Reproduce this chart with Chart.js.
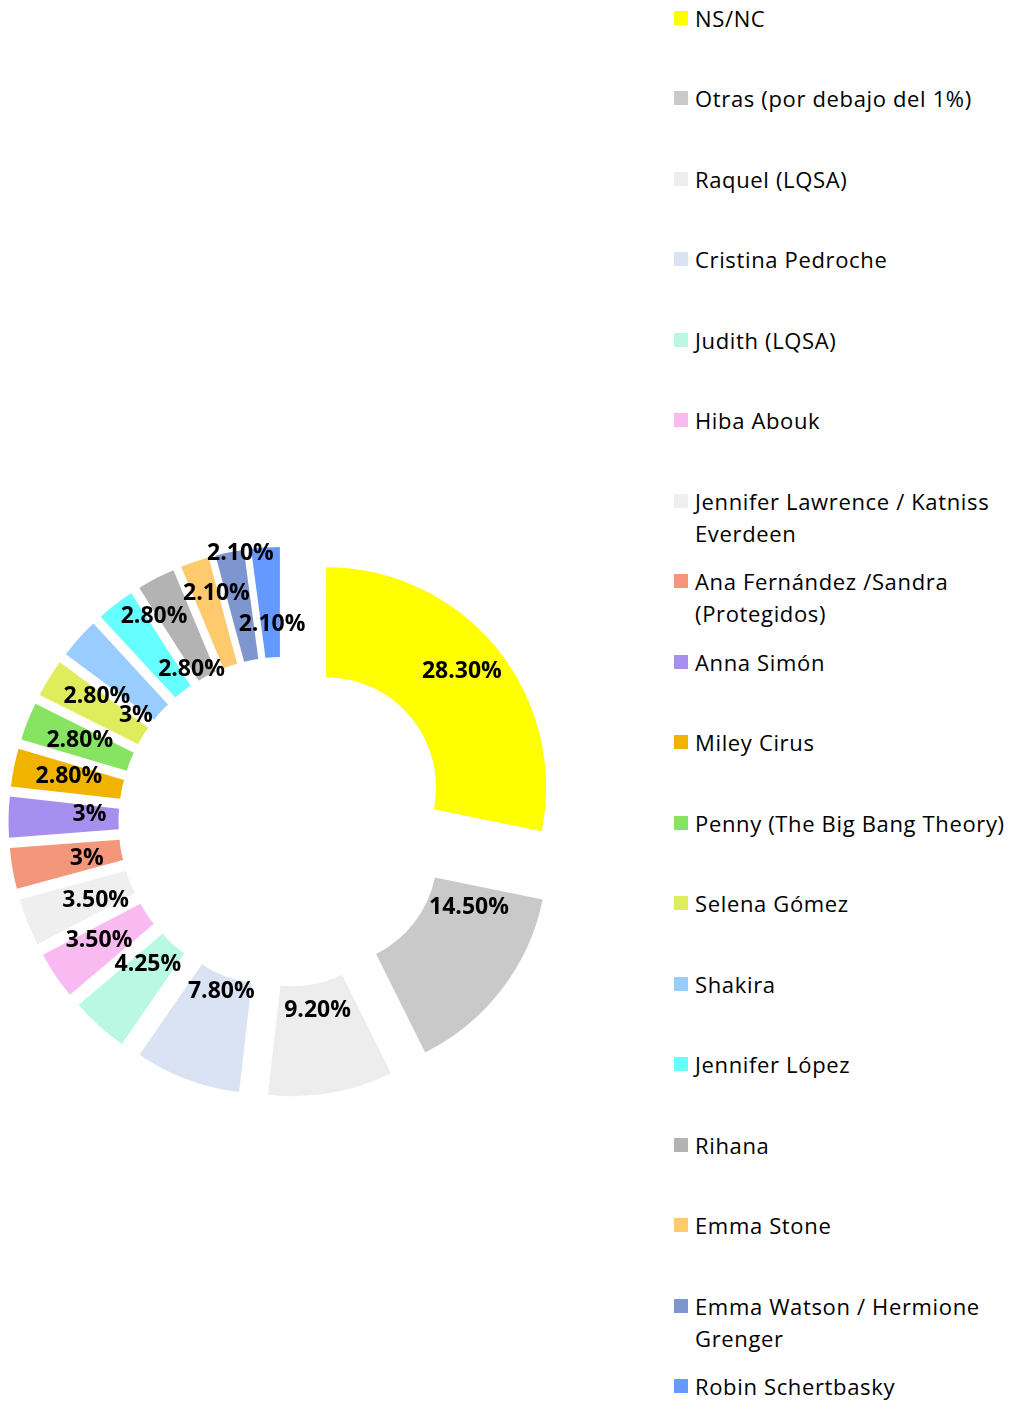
<!DOCTYPE html>
<html>
<head>
<meta charset="utf-8">
<script src="https://cdn.jsdelivr.net/npm/chart.js@4/dist/chart.umd.min.js"></script>
<style>
    body { margin: 0; background: #fff; width: 1014px; height: 1401px; position: relative; overflow: hidden; }
    #chart-box { position: absolute; left: 0; top: 472px; width: 567px; height: 700px; }
    .legend-item { position: absolute; left: 674px; width: 340px; font-family: "Open Sans", sans-serif; font-size: 22px; letter-spacing: 0.65px; line-height: 32px; color: #000; }
    .legend-item .box { position: absolute; left: 0; top: 9px; width: 14px; height: 14px; }
    .legend-item .txt { margin-left: 21px; }
</style>
</head>
<body>
<div id="chart-box"><canvas id="donut"></canvas></div>
<div id="legend"></div>
<script>
const names = [
    'NS/NC',
    'Otras (por debajo del 1%)',
    'Raquel (LQSA)',
    'Cristina Pedroche',
    'Judith (LQSA)',
    'Hiba Abouk',
    'Jennifer Lawrence / Katniss Everdeen',
    'Ana Fernández /Sandra (Protegidos)',
    'Anna Simón',
    'Miley Cirus',
    'Penny (The Big Bang Theory)',
    'Selena Gómez',
    'Shakira',
    'Jennifer López',
    'Rihana',
    'Emma Stone',
    'Emma Watson / Hermione Grenger',
    'Robin Schertbasky'
];
const percents = [28.3, 14.5, 9.2, 7.8, 4.25, 3.5, 3.5, 3, 3, 2.8, 2.8, 2.8, 3, 2.8, 2.8, 2.1, 2.1, 2.1];
const colors = [
    '#ffff00', '#c9c9c9', '#ededed', '#dae3f3', '#b9f9e4', '#f9b9f1',
    '#efefef', '#f4967a', '#a78ff0', '#f0b400', '#86e462', '#dfec5c',
    '#99ccff', '#66ffff', '#b3b3b3', '#ffc96e', '#7f95cf', '#6699ff'
];

// how far every slice is pulled out from the centre
const EXPLODE = 55;
// label nudges (px) so the labels sit where Excel put them
const labelNudge = [
    [8, -11], [11, -49], [-4, -28], [15, -37], [12, -21], [-2, -4],
    [17, -2], [20, -1], [26, -4], [1, -2], [1, -1], [1, -11],
    [16, 40], [5, -31], [10, 42], [4, -20], [0, -53], [3, 22]
];

function pctText(v) {
    return (Number.isInteger(v) ? v : v.toFixed(2)) + '%';
}

const explodePlugin = {
    id: 'explode',
    beforeDatasetDraw(chart, args) {
        const ctx = chart.ctx;
        args.meta.data.forEach(arc => {
            const mid = (arc.startAngle + arc.endAngle) / 2;
            ctx.save();
            ctx.translate(Math.cos(mid) * EXPLODE, Math.sin(mid) * EXPLODE);
            arc.draw(ctx);
            ctx.restore();
        });
        return false;
    }
};

const labelPlugin = {
    id: 'sliceLabels',
    afterDatasetsDraw(chart) {
        const ctx = chart.ctx;
        const meta = chart.getDatasetMeta(0);
        ctx.save();
        ctx.font = 'bold 23px "Open Sans"';
        ctx.fillStyle = '#000';
        ctx.textAlign = 'center';
        ctx.textBaseline = 'middle';
        meta.data.forEach((arc, i) => {
            const mid = (arc.startAngle + arc.endAngle) / 2;
            const r = EXPLODE + (arc.innerRadius + arc.outerRadius) / 2;
            const x = arc.x + Math.cos(mid) * r + labelNudge[i][0];
            const y = arc.y + Math.sin(mid) * r + labelNudge[i][1];
            ctx.fillText(pctText(percents[i]), x, y);
        });
        ctx.restore();
    }
};

function buildLegend() {
    const legend = document.getElementById('legend');
    names.forEach((name, i) => {
        const item = document.createElement('div');
        item.className = 'legend-item';
        item.style.top = (2 + i * 80.47) + 'px';
        item.innerHTML = `<span class="box" style="background:${colors[i]}"></span><div class="txt">${name}</div>`;
        legend.appendChild(item);
    });
}

function createDonut() {
    const ctx = document.getElementById('donut').getContext('2d');
    new Chart(ctx, {
        type: 'doughnut',
        data: {
            labels: names,
            datasets: [{
                data: percents,
                backgroundColor: colors,
                borderWidth: 0
            }]
        },
        options: {
            responsive: true,
            maintainAspectRatio: false,
            animation: false,
            radius: 220,
            cutout: '50%',
            layout: { padding: 0 },
            plugins: {
                legend: { display: false },
                tooltip: { enabled: false }
            }
        },
        plugins: [explodePlugin, labelPlugin]
    });
}

document.fonts.load('bold 23px "Open Sans"').then(() => {
    buildLegend();
    createDonut();
});
</script>
</body>
</html>
